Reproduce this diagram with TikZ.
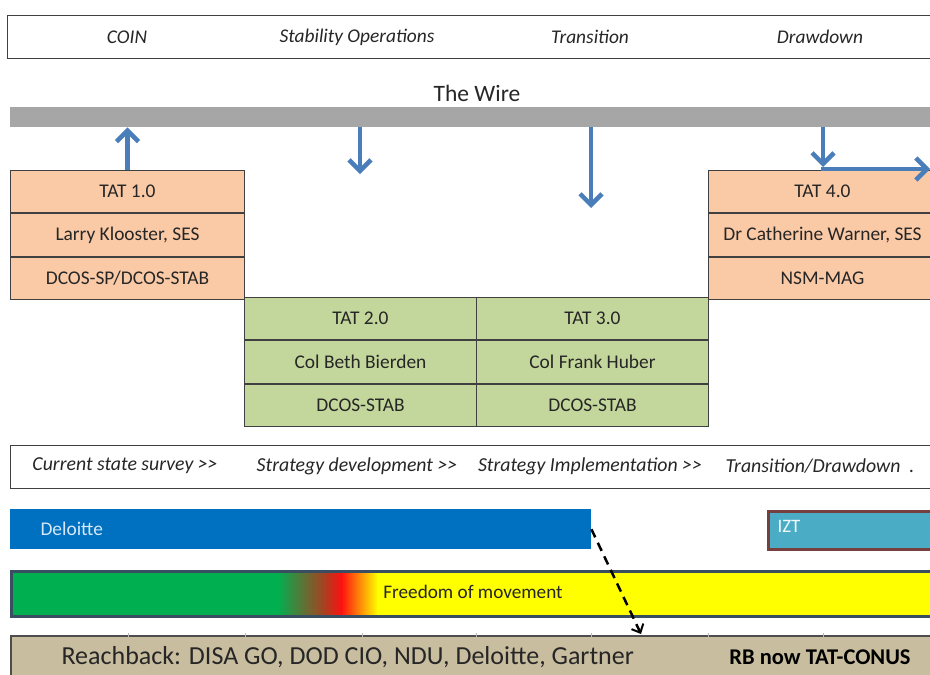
\documentclass[tikz,border=0pt]{standalone}
\usepackage{fontspec}
\setmainfont{Carlito}[Ligatures=TeXOff]
\usetikzlibrary{arrows.meta}
\definecolor{peach}{HTML}{FAC9A6}
\definecolor{olivegreen}{HTML}{C3D69B}
\definecolor{boxline}{HTML}{404040}
\definecolor{textdark}{HTML}{262626}
\definecolor{wiregray}{HTML}{A6A6A6}
\definecolor{arrowblue}{HTML}{4A7EBB}
\definecolor{deloitteblue}{HTML}{0070C0}
\definecolor{deloittetext}{HTML}{D6E8F7}
\definecolor{iztfill}{HTML}{4BACC6}
\definecolor{iztline}{HTML}{77403F}
\definecolor{fomgreen}{HTML}{00B050}
\definecolor{fomred}{HTML}{FF1010}
\definecolor{fomyellow}{HTML}{FFFF00}
\definecolor{fombrown}{HTML}{B23A1E}
\definecolor{fomline}{HTML}{3A4E62}
\definecolor{rbfill}{HTML}{C8BD9F}
\definecolor{rbline}{HTML}{4D4D4D}
\begin{document}
\begin{tikzpicture}[x=1pt,y=-1pt,
  cell/.style={draw=boxline, line width=1pt, minimum height=42.4pt, inner sep=0pt,
    anchor=north west, font=\fontsize{19.4}{22}\selectfont, text=textdark},
  peachcell/.style={cell, fill=peach},
  greencell/.style={cell, fill=olivegreen},
  toplabel/.style={font=\fontsize{19.4}{22}\selectfont\itshape, text=textdark},
  phaselabel/.style={font=\fontsize{19.8}{22}\selectfont\itshape, text=textdark},
  bluearrow/.style={draw=arrowblue, line width=4.5pt,
    -{Straight Barb[length=11pt,width=22pt,line width=4.5pt]}},
  band/.style={inner sep=0pt, anchor=north west}
]
\clip (0,0) rectangle (930,675);
\fill[white] (0,0) rectangle (930,675);

% top header box
\node[band, draw=boxline, line width=1pt, minimum width=935pt, minimum height=43pt] (header) at (7,15) {};
\node[toplabel] (coin) at (127,37) {COIN};
\node[toplabel] (stab) at (357,37) {Stability Operations};
\node[toplabel] (trans) at (590,37) {Transition};
\node[toplabel] (draw) at (820,37) {Drawdown};

% the wire
\node[font=\fontsize{23.5}{26}\selectfont, text=textdark] (wiretitle) at (477,93) {The Wire};
\node[band, fill=wiregray, minimum width=930pt, minimum height=20pt] (wire) at (10,107) {};

% TAT 1.0
\node[peachcell, minimum width=234pt] (t1a) at (10,170) {TAT 1.0};
\node[peachcell, minimum width=234pt] (t1b) at (t1a.south west) {Larry Klooster, SES};
\node[peachcell, minimum width=234pt] (t1c) at (t1b.south west) {DCOS-SP/DCOS-STAB};

% TAT 4.0 (cut off at right)
\node[peachcell, minimum width=228pt] (t4a) at (708,170) {TAT 4.0};
\node[peachcell, minimum width=228pt] (t4b) at (t4a.south west) {Dr Catherine Warner, SES};
\node[peachcell, minimum width=228pt] (t4c) at (t4b.south west) {NSM-MAG};

% TAT 2.0
\node[greencell, minimum width=232pt] (t2a) at (244,297) {TAT 2.0};
\node[greencell, minimum width=232pt] (t2b) at (t2a.south west) {Col Beth Bierden};
\node[greencell, minimum width=232pt] (t2c) at (t2b.south west) {DCOS-STAB};

% TAT 3.0
\node[greencell, minimum width=232pt] (t3a) at (476,297) {TAT 3.0};
\node[greencell, minimum width=232pt] (t3b) at (t3a.south west) {Col Frank Huber};
\node[greencell, minimum width=232pt] (t3c) at (t3b.south west) {DCOS-STAB};

% arrows to / from the wire
\draw[bluearrow] (t1a.north) -- (t1a.north |- wire.south);
\coordinate (d2) at (360,174);
\draw[bluearrow] (d2 |- wire.south) -- (d2);
\coordinate (d3) at (591,208);
\draw[bluearrow] (d3 |- wire.south) -- (d3);
\coordinate (d4) at (823,167);
\draw[bluearrow] (d4 |- wire.south) -- (d4);
\coordinate (h4s) at (821,169);
\coordinate (h4e) at (930,169);
\draw[bluearrow] (h4s) -- (h4e);

% phases box
\node[band, draw=boxline, line width=1pt, minimum width=930pt, minimum height=43pt] (phases) at (10,445) {};
\node[phaselabel] (p1) at (125,466) {Current state survey >>};
\node[phaselabel] (p2) at (357,466) {Strategy development >>};
\node[phaselabel] (p3) at (590,466) {Strategy Implementation >>};
\node[phaselabel] (p4) at (820,466) {Transition/Drawdown\ \ .};

% Deloitte bar
\node[band, fill=deloitteblue, minimum width=581pt, minimum height=40pt] (dl) at (10,509) {};
\node[anchor=west, font=\fontsize{19.4}{22}\selectfont, text=deloittetext] (dltext) at (37,529) {Deloitte};

% IZT bar
\node[band, fill=iztfill, draw=iztline, line width=3pt, minimum width=180pt, minimum height=38pt] (izt) at (767,510) {};
\node[anchor=west, font=\fontsize{19}{22}\selectfont, text=white!92!iztfill] (izttext) at (774,526) {IZT};

% Freedom of movement bar
\fill[fomgreen] (10,570) rectangle (278,615);
\shade[left color=fomgreen, right color=fombrown] (277,570) rectangle (327,615);
\shade[left color=fombrown, right color=fomred] (326,570) rectangle (342,615);
\shade[left color=fomred, right color=fomyellow] (341,570) rectangle (378,615);
\fill[fomyellow] (377,570) rectangle (935,615);
\node[band, draw=fomline, line width=2.5pt, minimum width=930pt, minimum height=45pt] (fom) at (10,570) {};
\node[font=\fontsize{19.2}{22}\selectfont, text=textdark] (fomtext) at (473,592) {Freedom of movement};

% Reachback bar
\node[band, fill=rbfill, draw=rbline, line width=2pt, minimum width=930pt, minimum height=50pt] (rb) at (10,635) {};
\foreach \tx in {128,245,362,476,591,708,823}
  \draw[white!60!rbline, line width=1pt] (\tx,633) -- (\tx,637);
\node[anchor=west, font=\fontsize{26}{30}\selectfont, text=textdark] (rbtext) at (58,657) {Reachback: DISA GO, DOD CIO, NDU, Deloitte, Gartner};
\node[font=\fontsize{22.5}{26}\selectfont\bfseries, text=black] (rbnow) at (820,657) {RB now TAT-CONUS};

% dashed arrow from Deloitte to reachback
\coordinate (rbpt) at (641,634);
\draw[black, line width=2.5pt, dash pattern=on 9pt off 6pt,
  -{Straight Barb[length=7pt,width=13pt,line width=2pt]}] (dl.east) -- (rbpt);
\end{tikzpicture}
\end{document}
